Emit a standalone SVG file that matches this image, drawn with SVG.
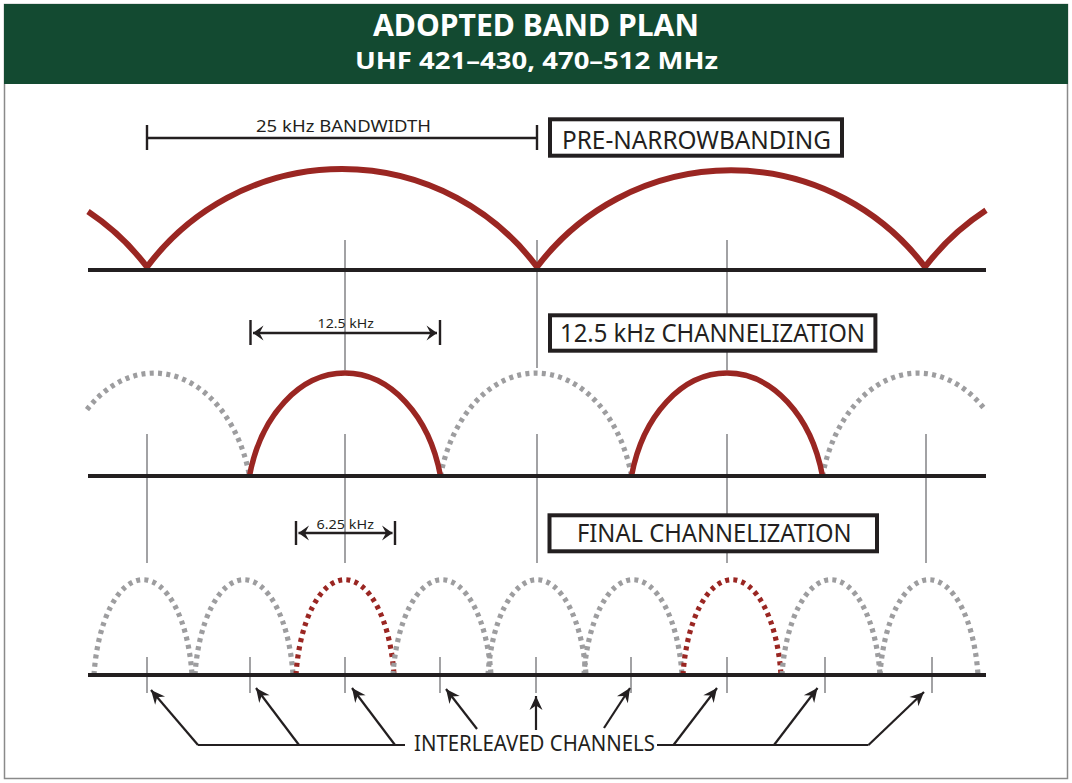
<svg xmlns="http://www.w3.org/2000/svg" width="1072" height="783" viewBox="0 0 1072 783">
  <style>
    .title{font-family:"Noto Sans","Liberation Sans",sans-serif;font-weight:bold;fill:#ffffff}
    .lbl{font-family:"Noto Sans","Liberation Sans",sans-serif;fill:#231f20}
    .box{fill:#ffffff;stroke:#231f20;stroke-width:4}
    .base{stroke:#231f20;stroke-width:4;fill:none}
    .vline{stroke:#a2a2a4;stroke-width:2;fill:none}
    .red{stroke:#9a2622;stroke-width:5.5;fill:none}
    .red1{stroke:#9a2622;stroke-width:6;fill:none}
    .gdot{stroke:#9d9d9f;stroke-width:5.2;fill:none;stroke-dasharray:4 4.3}
    .rdot{stroke:#9a2622;stroke-width:5.2;fill:none;stroke-dasharray:4 4.3}
    .dim{stroke:#231f20;stroke-width:2.4;fill:none}
    .conn{stroke:#231f20;stroke-width:2.2;fill:none}
  </style>
  <defs>
    <marker id="dimArrow" viewBox="-12 -8 13 16" refX="0" refY="0" markerWidth="13" markerHeight="16" markerUnits="userSpaceOnUse" orient="auto-start-reverse">
      <path d="M0,0 L-10.5,-7.5 L-6.5,0 L-10.5,7.5 Z" fill="#231f20"/>
    </marker>
    <marker id="callArrow" viewBox="-15 -8 16 16" refX="0" refY="0" markerWidth="16" markerHeight="16" markerUnits="userSpaceOnUse" orient="auto">
      <path d="M0,0 L-14,-6.5 L-9.5,0 L-14,6.5 Z" fill="#231f20"/>
    </marker>
  </defs>

  <rect x="4.5" y="4.5" width="1063" height="774" fill="#ffffff" stroke="#8a8a8a" stroke-width="1.5"/>

  <g id="header">
    <rect x="4" y="4" width="1064" height="80" fill="#134a31"/>
    <text class="title" x="536" y="36" font-size="30" text-anchor="middle" textLength="326" lengthAdjust="spacingAndGlyphs">ADOPTED BAND PLAN</text>
    <text class="title" x="536.5" y="69" font-size="24" text-anchor="middle" textLength="363" lengthAdjust="spacingAndGlyphs">UHF 421–430, 470–512 MHz</text>
  </g>

  <g id="guide-lines">
    <path class="vline" d="M345 240 V370 M345 434 V563 M537 240 V368 M537 434 V563 M727 240 V370 M727 434 V563 M147 434 V563 M926 434 V563"/>
    <path class="vline" d="M147 657 V693 M250 657 V693 M345 657 V693 M440 657 V693 M536 657 V693 M631 657 V693 M727 657 V693 M825 657 V693 M932 657 V693"/>
  </g>

  <g id="pre-narrowbanding-spectrum">
    <path class="red1" stroke-linejoin="miter" d="M88 211.6 A243 243 0 0 1 147 267 A243 243 0 0 1 537 267 A243 243 0 0 1 925 267 A243 243 0 0 1 986 210.3"/>
    <path class="base" d="M88 270 H986"/>
  </g>

  <g id="channelization-12-5-spectrum">
    <path class="gdot" d="M87 409.6 A98.6 137 0 0 1 249.5 476"/>
    <path class="gdot" d="M440.5 476 A98.6 137 0 0 1 631.5 476"/>
    <path class="gdot" d="M822.5 476 A98.6 137 0 0 1 986 410.9"/>
    <path class="red" d="M249.5 476 A98.6 137 0 0 1 440.5 476"/>
    <path class="red" d="M631.5 476 A98.6 137 0 0 1 822.5 476"/>
    <path class="base" d="M88 476 H986"/>
  </g>

  <g id="final-channelization-spectrum">
    <path class="gdot" d="M94 675 A49.5 111 0 0 1 192 675"/>
    <path class="gdot" d="M195 675 A49.5 111 0 0 1 293 675"/>
    <path class="rdot" d="M296 675 A49.5 111 0 0 1 394 675"/>
    <path class="gdot" d="M393 675 A49.5 111 0 0 1 491 675"/>
    <path class="gdot" d="M488 675 A49.5 111 0 0 1 586 675"/>
    <path class="gdot" d="M584 675 A49.5 111 0 0 1 682 675"/>
    <path class="rdot" d="M683 675 A49.5 111 0 0 1 781 675"/>
    <path class="gdot" d="M782 675 A49.5 111 0 0 1 880 675"/>
    <path class="gdot" d="M880 675 A49.5 111 0 0 1 978 675"/>
    <path class="base" d="M88 675 H986"/>
  </g>

  <g id="dim-25khz">
    <path class="dim" d="M147 125 V150 M537 125 V150 M147 138 H537"/>
    <text class="lbl" x="256" y="131.5" font-size="16.5" textLength="175" lengthAdjust="spacingAndGlyphs">25 kHz BANDWIDTH</text>
  </g>

  <g id="dim-12-5khz">
    <path class="dim" d="M250.5 320 V345 M440 320 V345"/>
    <path class="dim" d="M253 333 H437" marker-start="url(#dimArrow)" marker-end="url(#dimArrow)"/>
    <text class="lbl" x="317.6" y="327.5" font-size="13" textLength="56.4" lengthAdjust="spacingAndGlyphs">12.5 kHz</text>
  </g>

  <g id="dim-6-25khz">
    <path class="dim" d="M296 521 V545 M395 521 V545"/>
    <path class="dim" d="M298.5 533 H392.5" marker-start="url(#dimArrow)" marker-end="url(#dimArrow)"/>
    <text class="lbl" x="316.5" y="528.5" font-size="13" textLength="57.5" lengthAdjust="spacingAndGlyphs">6.25 kHz</text>
  </g>

  <g id="label-pre-narrowbanding">
    <rect class="box" x="550" y="119.3" width="292" height="36.4"/>
    <text class="lbl" x="562" y="148.5" font-size="25" textLength="269" lengthAdjust="spacingAndGlyphs">PRE-NARROWBANDING</text>
  </g>

  <g id="label-12-5-channelization">
    <rect class="box" x="550" y="315.3" width="325.4" height="35.4"/>
    <text class="lbl" x="560" y="341.5" font-size="25" textLength="305" lengthAdjust="spacingAndGlyphs">12.5 kHz CHANNELIZATION</text>
  </g>

  <g id="label-final-channelization">
    <rect class="box" x="549.5" y="515.3" width="327.5" height="36"/>
    <text class="lbl" x="577" y="541.7" font-size="25" textLength="274.6" lengthAdjust="spacingAndGlyphs">FINAL CHANNELIZATION</text>
  </g>

  <g id="label-interleaved">
    <text class="lbl" x="414" y="751" font-size="21" textLength="241" lengthAdjust="spacingAndGlyphs">INTERLEAVED CHANNELS</text>
  </g>

  <g id="connectors">
    <path class="conn" d="M405 745 H198"/>
    <path class="conn" d="M657 745 H868.5"/>
    <path class="conn" d="M198 745 L151 690" marker-end="url(#callArrow)"/>
    <path class="conn" d="M299 745 L256 688" marker-end="url(#callArrow)"/>
    <path class="conn" d="M395 745 L352 688" marker-end="url(#callArrow)"/>
    <path class="conn" d="M477 729 L446 689" marker-end="url(#callArrow)"/>
    <path class="conn" d="M536 730 L536 696" marker-end="url(#callArrow)"/>
    <path class="conn" d="M604 728 L630 688" marker-end="url(#callArrow)"/>
    <path class="conn" d="M673.5 745 L717 688" marker-end="url(#callArrow)"/>
    <path class="conn" d="M774 745 L817.5 688" marker-end="url(#callArrow)"/>
    <path class="conn" d="M868.5 745 L924 692" marker-end="url(#callArrow)"/>
  </g>
</svg>
